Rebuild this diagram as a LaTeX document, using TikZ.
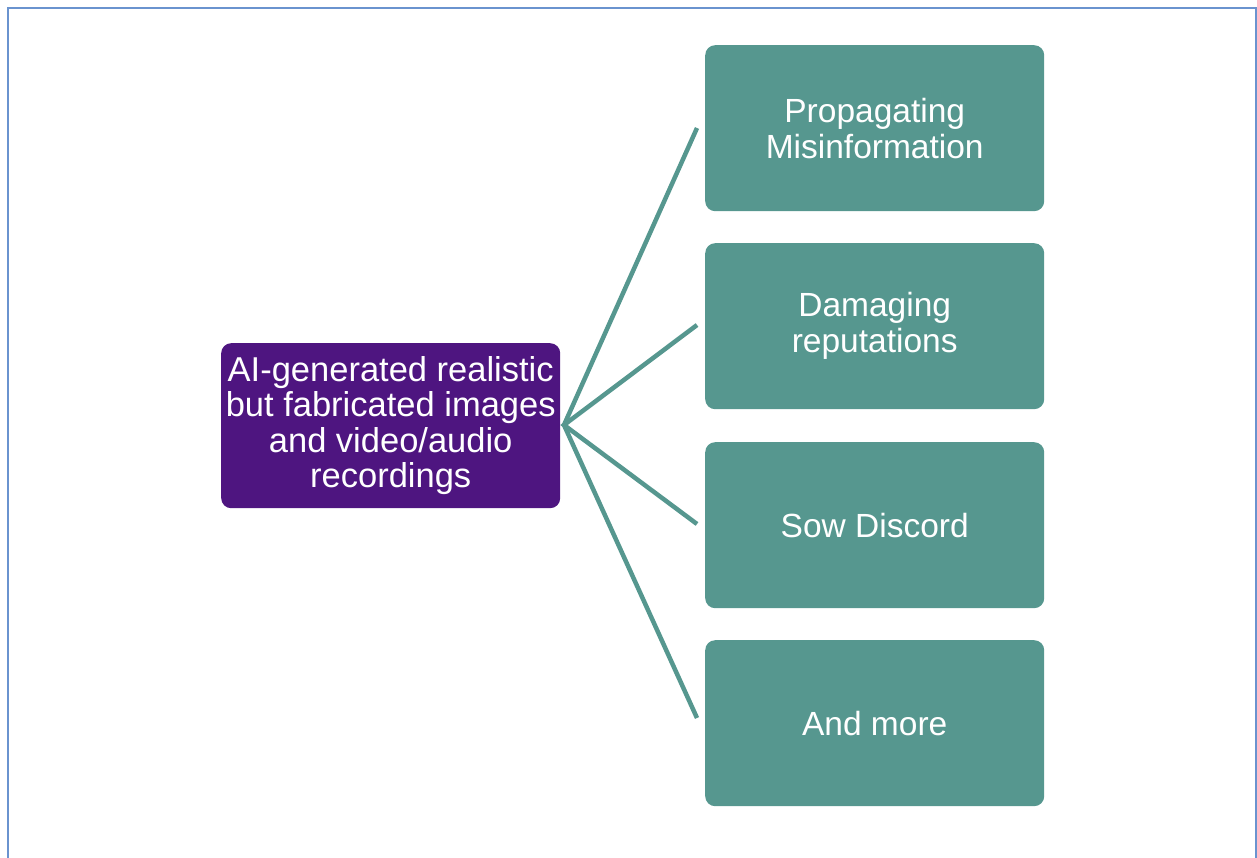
\documentclass[tikz,border=0pt]{standalone}
\usepackage{fontspec}
\setmainfont{Liberation Sans}
\definecolor{teal1}{HTML}{56978F}
\definecolor{purp}{HTML}{4E1580}
\definecolor{frameblue}{HTML}{6A93CF}
\begin{document}
\begin{tikzpicture}[x=1pt,y=-1pt,
  box/.style={draw=none, rounded corners=10pt, text=white, align=center,
    minimum width=339pt, inner sep=0pt, anchor=north west,
    font=\fontsize{33.5}{36}\selectfont},
  tealbox/.style={box, fill=teal1, minimum height=166pt},
  mainbox/.style={box, fill=purp, minimum height=165pt,
    font=\fontsize{34.5}{35.5}\selectfont},
  link/.style={draw=teal1, line width=4.5pt}]
\useasboundingbox (0,0) rectangle (1257,858);
\draw[frameblue, line width=2.5pt] (8,860) -- (8,8) -- (1256,8) -- (1256,860);
\node[mainbox] (main) at (221,343) {AI-generated realistic\\but fabricated images\\and video/audio\\recordings};
\node[tealbox] (b1) at (705,45) {Propagating\\Misinformation};
\node[tealbox] (b2) at (705,243) {Damaging\\reputations};
\node[tealbox] (b3) at (705,442) {Sow Discord};
\node[tealbox] (b4) at (705,640) {And more};
\coordinate (hub) at (564,425);
\coordinate (e1) at (697,128);
\coordinate (e2) at (697,325);
\coordinate (e3) at (697,524);
\coordinate (e4) at (697,718);
\draw[link] (e1) -- (hub) -- (e4);
\draw[link] (e2) -- (hub) -- (e3);
\end{tikzpicture}
\end{document}
